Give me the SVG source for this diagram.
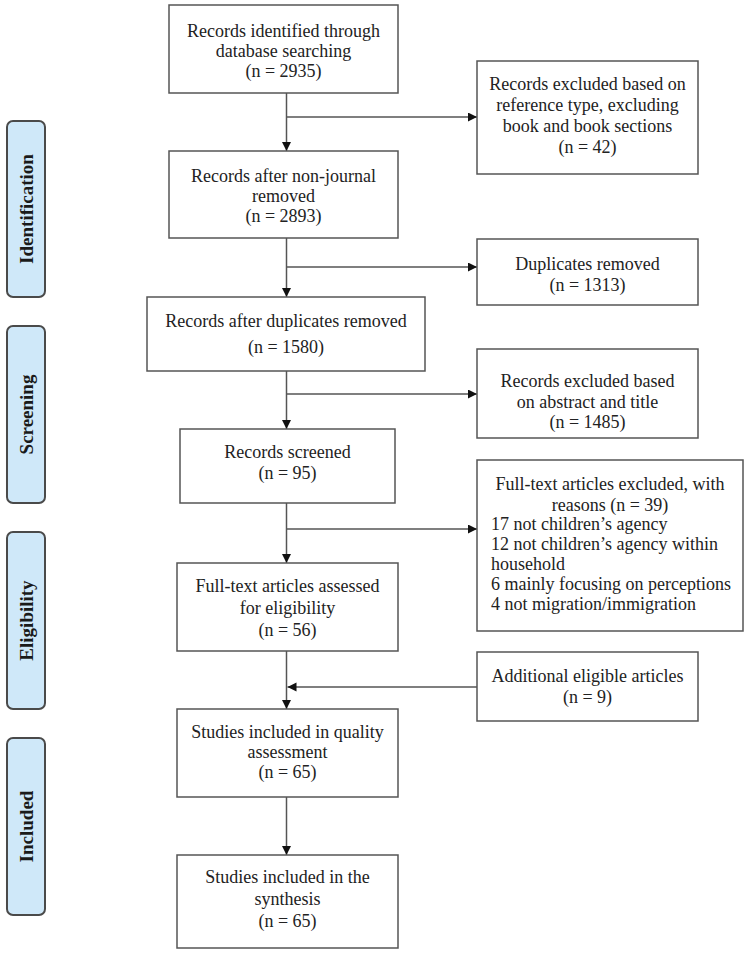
<svg xmlns="http://www.w3.org/2000/svg" width="749" height="955" viewBox="0 0 749 955">
<style>
.box{fill:#fff;stroke:#555;stroke-width:1.5}
.phase{fill:#cfe8f9;stroke:#4a4a4a;stroke-width:2}
.t{font-family:"Liberation Serif","Times New Roman",Times,"DejaVu Serif",serif;font-size:18px;fill:#222;text-anchor:middle}
.l{text-anchor:start}
.p{font-family:"Liberation Serif","Times New Roman",Times,"DejaVu Serif",serif;font-size:19px;font-weight:bold;fill:#1a1a1a;text-anchor:middle}
.c{fill:none;stroke:#555;stroke-width:1.5}
</style>
<defs>
<marker id="ah" markerUnits="userSpaceOnUse" markerWidth="10" markerHeight="10" refX="9" refY="4.5" orient="auto">
<path d="M0,0 L9,4.5 L0,9 z" fill="#111"/>
</marker>
</defs>
<rect width="749" height="955" fill="#fff"/>

<g id="phase-identification">
<rect class="phase" x="7" y="121" width="38" height="176" rx="6"/>
<text class="p" transform="translate(33,209) rotate(-90)">Identification</text>
</g>
<g id="phase-screening">
<rect class="phase" x="7" y="326" width="38" height="177" rx="6"/>
<text class="p" transform="translate(33,414.5) rotate(-90)">Screening</text>
</g>
<g id="phase-eligibility">
<rect class="phase" x="7" y="532" width="38" height="177" rx="6"/>
<text class="p" transform="translate(33,620.5) rotate(-90)">Eligibility</text>
</g>
<g id="phase-included">
<rect class="phase" x="7" y="738" width="38" height="177" rx="6"/>
<text class="p" transform="translate(33,826.5) rotate(-90)">Included</text>
</g>

<g id="connectors">
<line class="c" x1="286.5" y1="93" x2="286.5" y2="151" marker-end="url(#ah)"/>
<line class="c" x1="286.5" y1="117" x2="477" y2="117" marker-end="url(#ah)"/>
<line class="c" x1="286.5" y1="238" x2="286.5" y2="297" marker-end="url(#ah)"/>
<line class="c" x1="286.5" y1="267" x2="477" y2="267" marker-end="url(#ah)"/>
<line class="c" x1="286.5" y1="371" x2="286.5" y2="429" marker-end="url(#ah)"/>
<line class="c" x1="286.5" y1="394" x2="477" y2="394" marker-end="url(#ah)"/>
<line class="c" x1="286.5" y1="503" x2="286.5" y2="563" marker-end="url(#ah)"/>
<line class="c" x1="286.5" y1="529" x2="477" y2="529" marker-end="url(#ah)"/>
<line class="c" x1="286.5" y1="651" x2="286.5" y2="709" marker-end="url(#ah)"/>
<line class="c" x1="477" y1="687" x2="287.5" y2="687" marker-end="url(#ah)"/>
<line class="c" x1="286.5" y1="797" x2="286.5" y2="855" marker-end="url(#ah)"/>
</g>

<g id="n1">
<rect class="box" x="169" y="5" width="229" height="88"/>
<text class="t" x="283.5" y="37">Records identified through</text>
<text class="t" x="283.5" y="57">database searching</text>
<text class="t" x="283.5" y="77">(n = 2935)</text>
</g>
<g id="n1x">
<rect class="box" x="477" y="61" width="221" height="113"/>
<text class="t" x="587.5" y="90">Records excluded based on</text>
<text class="t" x="587.5" y="111">reference type, excluding</text>
<text class="t" x="587.5" y="132">book and book sections</text>
<text class="t" x="587.5" y="153">(n = 42)</text>
</g>
<g id="n2">
<rect class="box" x="169" y="151" width="229" height="87"/>
<text class="t" x="283.5" y="182">Records after non-journal</text>
<text class="t" x="283.5" y="202">removed</text>
<text class="t" x="283.5" y="222">(n = 2893)</text>
</g>
<g id="n2x">
<rect class="box" x="477" y="239" width="221" height="66"/>
<text class="t" x="587.5" y="270">Duplicates removed</text>
<text class="t" x="587.5" y="291">(n = 1313)</text>
</g>
<g id="n3">
<rect class="box" x="147" y="297" width="278" height="74"/>
<text class="t" x="286" y="327">Records after duplicates removed</text>
<text class="t" x="286" y="353">(n = 1580)</text>
</g>
<g id="n3x">
<rect class="box" x="477" y="349" width="221" height="89"/>
<text class="t" x="587.5" y="387">Records excluded based</text>
<text class="t" x="587.5" y="408">on abstract and title</text>
<text class="t" x="587.5" y="428">(n = 1485)</text>
</g>
<g id="n4">
<rect class="box" x="180" y="429" width="215" height="74"/>
<text class="t" x="287.5" y="458">Records screened</text>
<text class="t" x="287.5" y="479">(n = 95)</text>
</g>
<g id="n4x">
<rect class="box" x="477" y="460" width="266" height="171"/>
<text class="t" x="610" y="490">Full-text articles excluded, with</text>
<text class="t" x="610" y="511">reasons (n = 39)</text>
<text class="t l" x="491" y="530">17 not children’s agency</text>
<text class="t l" x="491" y="550">12 not children’s agency within</text>
<text class="t l" x="491" y="570">household</text>
<text class="t l" x="491" y="590">6 mainly focusing on perceptions</text>
<text class="t l" x="491" y="610">4 not migration/immigration</text>
</g>
<g id="n5">
<rect class="box" x="177" y="563" width="221" height="88"/>
<text class="t" x="287.5" y="592">Full-text articles assessed</text>
<text class="t" x="287.5" y="614">for eligibility</text>
<text class="t" x="287.5" y="636">(n = 56)</text>
</g>
<g id="n5x">
<rect class="box" x="477" y="652" width="221" height="69"/>
<text class="t" x="587.5" y="682">Additional eligible articles</text>
<text class="t" x="587.5" y="703">(n = 9)</text>
</g>
<g id="n6">
<rect class="box" x="177" y="709" width="221" height="88"/>
<text class="t" x="287.5" y="738">Studies included in quality</text>
<text class="t" x="287.5" y="758">assessment</text>
<text class="t" x="287.5" y="778">(n = 65)</text>
</g>
<g id="n7">
<rect class="box" x="177" y="855" width="221" height="93"/>
<text class="t" x="287.5" y="883">Studies included in the</text>
<text class="t" x="287.5" y="905">synthesis</text>
<text class="t" x="287.5" y="927">(n = 65)</text>
</g>
</svg>
